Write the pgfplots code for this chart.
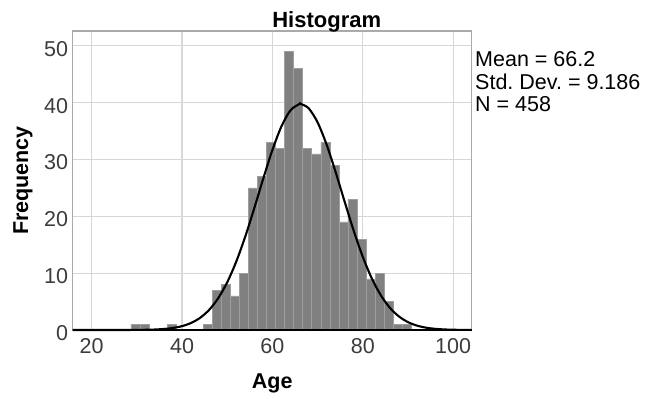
\documentclass[border=0pt]{standalone}
\usepackage{pgfplots}
\pgfplotsset{compat=1.18}
\usepackage{fontspec}
\setmainfont{Liberation Sans}
\frenchspacing
\definecolor{barfill}{RGB}{128,128,128}
\definecolor{baredge}{RGB}{158,158,158}
\definecolor{gridc}{RGB}{215,215,215}
\definecolor{framec}{RGB}{170,170,170}
\definecolor{tickc}{RGB}{60,60,60}
\begin{document}
\begin{tikzpicture}
\useasboundingbox (0,0) rectangle (664bp,399bp);
\begin{axis}[
  at={(72.7bp,69bp)}, anchor=south west,
  scale only axis, width=399bp, height=299bp,
  xmin=15.8, xmax=104.1, ymin=0, ymax=52.6,
  xtick={20,40,60,80,100}, ytick={0,10,20,30,40,50},
  major tick length=0pt,
  grid=major,
  major grid style={draw=gridc, line width=1.3bp},
  axis line style={draw=framec, line width=1.3bp},
  /pgf/number format/assume math mode=true,
  tick label style={font=\fontsize{21.5bp}{24bp}\selectfont, text=tickc},
  xticklabel style={inner sep=0pt, anchor=north, yshift=-8bp},
  yticklabel style={inner sep=0pt, anchor=east, xshift=-4.5bp, yshift=-3bp},
  xlabel={Age}, ylabel={Frequency},
  xlabel style={at={(axis description cs:0.5,-0.1773)}, anchor=center, font=\fontsize{21.5bp}{24bp}\selectfont\bfseries},
  ylabel style={at={(axis description cs:-0.1246,0.5)}, anchor=center, rotate=0, font=\fontsize{21.5bp}{24bp}\selectfont\bfseries},
  clip=false,
]
\addplot[ybar interval, fill=barfill, draw=baredge, line width=0.5bp] coordinates {
(28.7,1) (30.7,1) (32.7,0) (34.7,0) (36.7,1) (38.7,0) (40.7,0) (42.7,0)
(44.7,1) (46.7,7) (48.7,8) (50.7,6) (52.7,10) (54.7,25) (56.7,27) (58.7,33)
(60.7,32) (62.7,49) (64.7,46) (66.7,32) (68.7,31) (70.7,33) (72.7,29)
(74.7,19) (76.7,23) (78.7,16) (80.7,9) (82.7,10) (84.7,5) (86.7,1) (88.7,1)
(90.7,0)
};
\addplot[black, line width=2.1bp, smooth] coordinates {
(15.8,0) (20,0.0001) (24,0.001) (28,0.007) (30,0.017) (32,0.039) (34,0.085)
(36,0.179) (38,0.358) (40,0.681) (42,1.238) (44,2.145) (46,3.544) (48,5.589)
(50,8.40) (52,12.05) (54,16.47) (56,21.47) (58,26.71) (60,31.68) (62,35.83)
(64,38.65) (66,39.77) (66.2,39.78) (68,39.02) (70,36.52) (72,32.59) (74,27.74)
(76,22.52) (78,17.43) (80,12.87) (82,9.06) (84,6.09) (86,3.898) (88,2.380)
(90,1.386) (92,0.770) (94,0.408) (96,0.206) (98,0.099) (100,0.046) (102,0.020)
(104.1,0.008)
};
\draw[black, line width=2bp] (rel axis cs:0,0) -- (rel axis cs:1,0);
\node[anchor=base, font=\fontsize{22bp}{24bp}\selectfont\bfseries] at (axis description cs:0.6366,1.0117) {Histogram};
\node[anchor=base west, inner sep=0pt, font=\fontsize{21.5bp}{24bp}\selectfont] at (axis description cs:1.0083,0.8796) {Mean = 66.2};
\node[anchor=base west, inner sep=0pt, font=\fontsize{21.5bp}{24bp}\selectfont] at (axis description cs:1.0083,0.8043) {Std. Dev. = 9.186};
\node[anchor=base west, inner sep=0pt, font=\fontsize{21.5bp}{24bp}\selectfont] at (axis description cs:1.0083,0.7291) {N = 458};
\end{axis}
\end{tikzpicture}
\end{document}
